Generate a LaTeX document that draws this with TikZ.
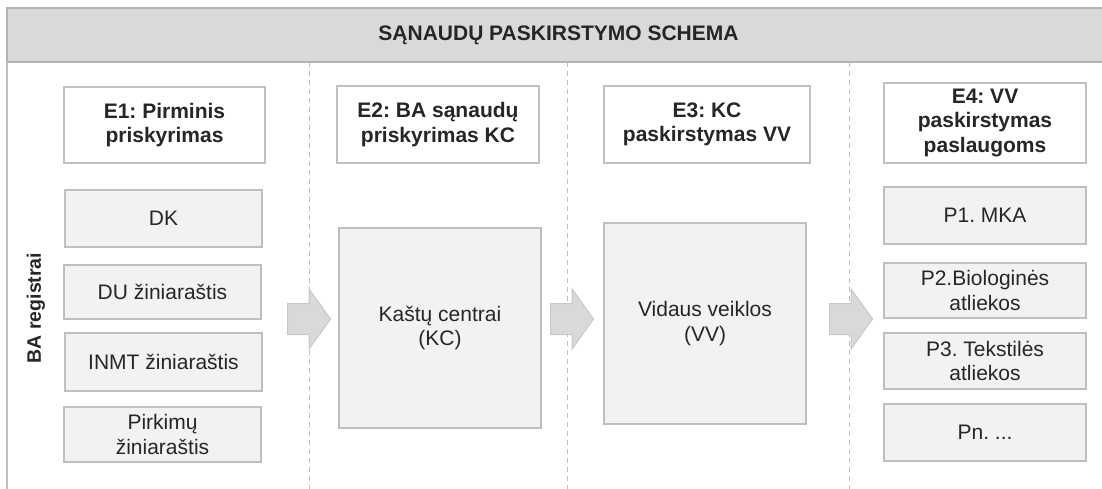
\documentclass[tikz,border=0pt]{standalone}
\usepackage{fontspec}
\setmainfont{Liberation Sans}
\usepackage{tikz}
\usetikzlibrary{shapes,arrows,calc,fit,positioning}
\frenchspacing

\definecolor{hdrgray}{HTML}{D9D9D9}
\definecolor{boxgray}{HTML}{F2F2F2}
\definecolor{linegray}{HTML}{BFBFBF}
\definecolor{headline}{HTML}{B3B3B3}
\definecolor{arrowline}{HTML}{C8C8C8}
\definecolor{txtgray}{HTML}{262626}

\begin{document}
\begin{tikzpicture}[x=1pt,y=-1pt,font=\fontsize{21}{24.5}\selectfont,text=txtgray,line width=1.3pt, every fit/.style={inner sep=0pt, outer sep=0pt}, every label/.style={align=center}]
			\tikzstyle{stage}=[draw=linegray, fill=white]
			\tikzstyle{stagetext}=[font=\fontsize{21}{24.5}\selectfont\bfseries]
			\tikzstyle{item}=[draw=linegray, fill=boxgray]
			\tikzstyle{flow}=[single arrow, draw=arrowline, fill=hdrgray, line width=1pt, inner xsep=0pt, inner ysep=15pt, minimum height=43, single arrow head extend=14.5, single arrow tip angle=109, anchor=tail]
			\tikzstyle{divider}=[draw=linegray, line width=1pt, dash pattern=on 5pt off 4pt]

			\useasboundingbox (0,0) rectangle (1102,489);

			\foreach \x in {309,567,849}
				\draw [divider] (\x,62) -- (\x,489);

			\node [draw=headline, fill=hdrgray, fit={(7,8) (1110,62)}, label={[font=\fontsize{21}{24}\selectfont\bfseries]center:{SĄNAUDŲ PASKIRSTYMO SCHEMA}}] (head) {};
			\draw [draw=linegray] (head.south west) -- (7,489);

			\node [rotate=90, font=\fontsize{19.5}{23}\selectfont\bfseries] (ba) at (36,308) {BA registrai};

			\begin{scope}
				\node [stage, fit={(64,87) (265,163)}, label={[stagetext]center:{E1: Pirminis\\priskyrimas}}] (e1) {};
				\node [item, fit={(65,190) (262,247)}, label=center:{DK}] (dk) {};
				\node [item, fit={(64,265) (261,319)}, label=center:{DU žiniaraštis}] (du) {};
				\node [item, fit={(65,333) (262,391)}, label=center:{INMT žiniaraštis}] (inmt) {};
				\node [item, fit={(64,407) (261,462)}, label=center:{Pirkimų\\žiniaraštis}] (pirk) {};
			\end{scope}

			\begin{scope}
				\node [stage, fit={(337,86) (539,163)}, label={[stagetext]center:{E2: BA sąnaudų\\priskyrimas KC}}] (e2) {};
				\node [item, fit={(339,228) (541,428)}, label=center:{Kaštų centrai\\(KC)}] (kc) {};
			\end{scope}

			\begin{scope}
				\node [stage, fit={(604,86) (810,163)}, label={[stagetext]center:{E3: KC\\paskirstymas VV}}] (e3) {};
				\node [item, fit={(604,223) (806,424)}, label=center:{Vidaus veiklos\\(VV)}] (vv) {};
			\end{scope}

			\begin{scope}
				\node [stage, fit={(884,83) (1086,163)}, label={[stagetext]center:{E4: VV\\paskirstymas\\paslaugoms}}] (e4) {};
				\node [item, fit={(884,187) (1086,244)}, label=center:{P1. MKA}] (p1) {};
				\node [item, fit={(884,263) (1086,318)}, label=center:{P2.Biologinės\\atliekos}] (p2) {};
				\node [item, fit={(884,333) (1086,389)}, label=center:{P3. Tekstilės\\atliekos}] (p3) {};
				\node [item, fit={(884,404) (1086,461)}, label=center:{Pn. ...}] (pn) {};
			\end{scope}

			\node [flow] (ar1) at (287,319) {};
			\node [flow] (ar2) at (550,319) {};
			\node [flow] (ar3) at (829,319) {};
		\end{tikzpicture}
\end{document}
